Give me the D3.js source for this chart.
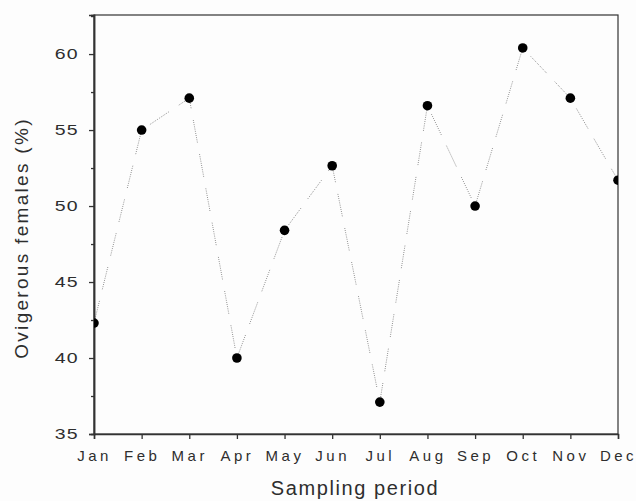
<!DOCTYPE html>
<html>
<head>
<script src="https://d3js.org/d3.v7.min.js"></script>
<style>
body { margin: 0; background: #fdfdfd; }
text { font-family: "Liberation Sans", Arial, sans-serif; fill: #2e2e2e; }
</style>
</head>
<body>
<div id="chart"></div>
<script>
// values
const months = ["Jan", "Feb", "Mar", "Apr", "May", "Jun", "Jul", "Aug", "Sep", "Oct", "Nov", "Dec"];
const ovigerous = [42.3, 55.0, 57.1, 40.0, 48.4, 52.65, 37.1, 56.6, 50.0, 60.4, 57.1, 51.7];
const yTicks = [35, 40, 45, 50, 55, 60];
const yMinor = [37.5, 42.5, 47.5, 52.5, 57.5, 62.5];

const W = 636, H = 501;
const margin = {top: 15, right: 18, bottom: 67, left: 94};
const width = W - margin.left - margin.right;
const height = H - margin.top - margin.bottom;

const svg = d3.select("#chart").append("svg")
    .attr("width", W)
    .attr("height", H);

const g = svg.append("g")
    .attr("transform", "translate(" + margin.left + "," + margin.top + ")");

const x = d3.scalePoint()
    .domain(months)
    .range([0, width]);

const y = d3.scaleLinear()
    .domain([35, 62.57])
    .range([height, 0]);

g.append("clipPath").attr("id", "clip")
  .append("rect")
    .attr("width", width)
    .attr("height", height);

// frame
g.append("rect")
    .attr("width", width)
    .attr("height", height)
    .attr("fill", "none")
    .attr("stroke", "#333")
    .attr("stroke-width", 1.2);

// x axis
const xAxis = g.append("g")
    .attr("transform", "translate(0," + height + ")")
    .call(d3.axisBottom(x).tickSize(5).tickPadding(11));
xAxis.selectAll("text")
    .style("font-size", "15px")
    .style("letter-spacing", "3.5px");

// y axis - the original digits are wide, so stretch them a bit
const ySx = 1.3;
const yAxis = g.append("g")
    .call(d3.axisLeft(y).tickValues(yTicks).tickSize(5));
yAxis.selectAll("text")
    .attr("x", -15 / ySx)
    .attr("transform", "scale(" + ySx + ",1)")
    .style("font-size", "15px")
    .style("letter-spacing", "1px");

g.append("g")
    .call(d3.axisLeft(y).tickValues(yMinor).tickSize(3).tickFormat(""));

g.selectAll(".domain").attr("stroke", "#333").attr("stroke-width", 1.5);
g.selectAll(".tick line").attr("stroke", "#333").attr("stroke-width", 1.3);

// dotted connecting line
const line = d3.line()
    .x(function(d, i) { return x(months[i]); })
    .y(function(d) { return y(d); });

g.append("path")
    .datum(ovigerous)
    .attr("clip-path", "url(#clip)")
    .attr("fill", "none")
    .attr("stroke", "#6a6a6a")
    .attr("stroke-width", 0.9)
    .attr("stroke-dasharray", "0.8,1.4,0.8,1.4,0.8,1.4,0.8,1.4,0.8,1.4,0.8,1.4,0.8,1.4,0.8,1.4,0.8,1.4,0.8,1.4,0.8,12")
    .attr("d", line);

// markers
g.append("g")
    .attr("clip-path", "url(#clip)")
  .selectAll("circle")
    .data(ovigerous)
    .enter().append("circle")
    .attr("cx", function(d, i) { return x(months[i]); })
    .attr("cy", function(d) { return y(d); })
    .attr("r", 4.8)
    .attr("fill", "#000");

// titles
svg.append("text")
    .attr("x", 355)
    .attr("y", 495)
    .attr("text-anchor", "middle")
    .style("font-size", "20px")
    .style("letter-spacing", "1.6px")
    .text("Sampling period");

svg.append("text")
    .attr("transform", "translate(28,238) rotate(-90)")
    .attr("text-anchor", "middle")
    .style("font-size", "19px")
    .style("letter-spacing", "2.3px")
    .text("Ovigerous females (%)");
</script>
</body>
</html>
